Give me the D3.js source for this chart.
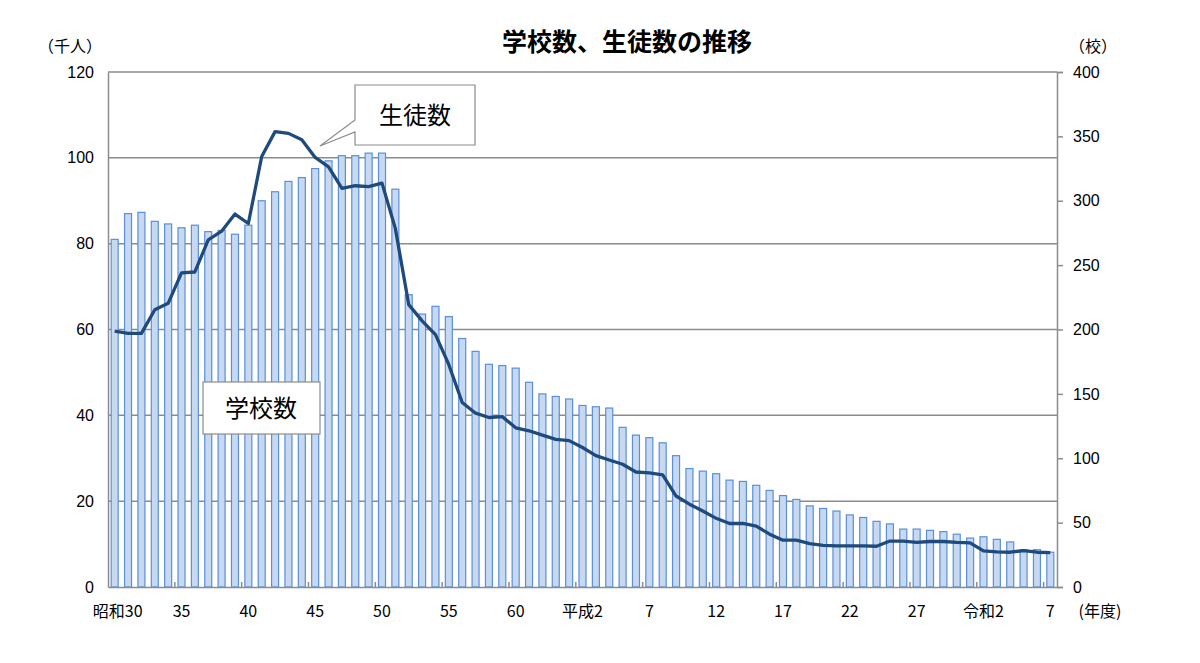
<!DOCTYPE html>
<html>
<head>
<meta charset="utf-8">
<script src="https://cdn.jsdelivr.net/npm/d3@7"></script>
<style>
  body { margin: 0; background: #fff; font-family: "Noto Sans CJK JP", "Noto Sans", sans-serif; }
</style>
</head>
<body>
<svg id="chart" width="1200" height="663"></svg>
<script>
// 年度 (昭和30 = 1955 ... 令和7 = 2025)
const years = d3.range(1955, 2026)

// 学校数 (校)
const schools = [
  270, 290, 291, 284, 282, 279, 281, 276, 277, 274, 281, 300, 307, 315, 318, 325, 331, 335, 335, 337, 337, 309, 227, 212,
  218, 210, 193, 183, 173, 172, 170, 159, 150, 148, 146, 141, 140, 139, 124, 118, 116, 112, 102, 92, 90, 88, 83,
  82, 79, 75, 71, 68, 63, 61, 59, 56, 54, 51, 49, 45, 45, 44, 43, 41, 38, 39, 37, 35, 29, 29, 27
]

// 生徒数 (千人)
const students = [
  59.6, 59.1, 59.1, 64.6, 66.1, 73.2, 73.4, 80.9, 82.9, 86.9, 84.7, 100.3, 106.1, 105.7, 104.2, 100.1, 97.9, 92.9, 93.5, 93.3, 94.1, 83.5, 65.8, 62.0,
  58.8, 51.8, 43.0, 40.5, 39.5, 39.7, 37.1, 36.4, 35.4, 34.4, 34.1, 32.5, 30.6, 29.6, 28.6, 26.8, 26.6, 26.1, 21.2, 19.3, 17.7, 16.0, 14.8,
  14.8, 14.2, 12.3, 10.9, 10.9, 10.1, 9.7, 9.6, 9.6, 9.6, 9.5, 10.7, 10.7, 10.4, 10.6, 10.6, 10.4, 10.3, 8.4, 8.2, 8.1, 8.5, 8.1, 8.0
]

const xLabels = [
  [1955, "昭和30"], [1960, "35"], [1965, "40"], [1970, "45"], [1975, "50"], [1980, "55"], [1985, "60"],
  [1990, "平成2"], [1995, "7"], [2000, "12"], [2005, "17"], [2010, "22"], [2015, "27"], [2020, "令和2"], [2025, "7"]
]
const leftTicks = [0, 20, 40, 60, 80, 100, 120]
const rightTicks = [0, 50, 100, 150, 200, 250, 300, 350, 400]

const margin = { top: 72, right: 143, bottom: 76, left: 108 }
const width = 1200 - margin.left - margin.right
const height = 663 - margin.top - margin.bottom

const svg = d3.select("#chart")
const g = svg.append("g").attr("transform", `translate(${margin.left},${margin.top})`)

const x = d3.scaleBand().domain(years).range([0, width])
const yL = d3.scaleLinear().domain([0, 120]).range([height, 0])
const yR = d3.scaleLinear().domain([0, 400]).range([height, 0])

// gridlines
g.selectAll(".grid").data(leftTicks.slice(1)).join("line")
  .attr("x1", 0).attr("x2", width)
  .attr("y1", d => yL(d)).attr("y2", d => yL(d))
  .attr("stroke", "#8c8c8c").attr("stroke-width", 1.5)

// bars
const bw = 7
g.selectAll(".bar").data(years).join("rect")
  .attr("x", (d) => x(d) + x.bandwidth() / 2 - bw / 2)
  .attr("y", (d, i) => yR(schools[i]))
  .attr("width", bw)
  .attr("height", (d, i) => height - yR(schools[i]))
  .attr("fill", "#c6d9f1")
  .attr("stroke", "#5b8fd9")
  .attr("stroke-width", 1.2)

// student line
const line = d3.line()
  .x((d, i) => x(years[i]) + x.bandwidth() / 2)
  .y(d => yL(d))
g.append("path").datum(students)
  .attr("d", line)
  .attr("fill", "none")
  .attr("stroke", "#1f4a7e")
  .attr("stroke-width", 3.3)
  .attr("stroke-linejoin", "round")

// axes
const axisColor = "#8c8c8c"
const leftAxis = g.append("g").call(d3.axisLeft(yL).tickValues(leftTicks).tickSize(0).tickPadding(14))
const rightAxis = g.append("g").attr("transform", `translate(${width},0)`)
  .call(d3.axisRight(yR).tickValues(rightTicks).tickSize(6).tickPadding(10))
const bottomAxis = g.append("g").attr("transform", `translate(0,${height})`)
  .call(d3.axisBottom(x).tickValues([]).tickSize(0))
;[leftAxis, rightAxis, bottomAxis].forEach(a => {
  a.select(".domain").attr("stroke", axisColor).attr("stroke-width", 1.5)
  a.selectAll("line").attr("stroke", axisColor).attr("stroke-width", 1.5)
  a.selectAll("text").attr("font-size", 16).attr("fill", "#000")
    .attr("font-family", "Liberation Sans, Arial, sans-serif")
})

// x ticks between bands every 5 years, labels centred on bars
g.selectAll(".xt").data(xLabels.slice(1)).join("line")
  .attr("x1", d => x(d[0])).attr("x2", d => x(d[0]))
  .attr("y1", height).attr("y2", height - 5)
  .attr("stroke", axisColor).attr("stroke-width", 1.5)
g.selectAll(".xl").data(xLabels).join("text")
  .attr("x", (d, i) => x(d[0]) + x.bandwidth() / 2 + (i === 0 ? 3 : 0))
  .attr("y", height + 30)
  .attr("text-anchor", "middle")
  .attr("font-size", 16)
  .text(d => d[1])

svg.append("text").attr("x", 1100).attr("y", margin.top + height + 30)
  .attr("text-anchor", "middle").attr("font-size", 16).text("(年度)")
svg.append("text").attr("x", 70).attr("y", 52)
  .attr("text-anchor", "middle").attr("font-size", 16).text("（千人）")
svg.append("text").attr("x", 1093).attr("y", 52)
  .attr("text-anchor", "middle").attr("font-size", 16).text("（校）")

// title
svg.append("text").attr("x", 627).attr("y", 51)
  .attr("text-anchor", "middle").attr("font-size", 25).attr("font-weight", "bold")
  .text("学校数、生徒数の推移")

// callouts
svg.append("path")
  .attr("d", "M355,85 H475 V145 H355 V132 L320,146 L355,120 Z")
  .attr("fill", "#fff").attr("stroke", "#8c8c8c").attr("stroke-width", 1.2)
svg.append("text").attr("x", 415).attr("y", 124).attr("text-anchor", "middle")
  .attr("font-size", 24).text("生徒数")
svg.append("rect").attr("x", 203).attr("y", 382).attr("width", 117).attr("height", 52)
  .attr("fill", "#fff").attr("stroke", "#8c8c8c").attr("stroke-width", 1.2)
svg.append("text").attr("x", 261).attr("y", 417).attr("text-anchor", "middle")
  .attr("font-size", 24).text("学校数")
</script>
</body>
</html>
